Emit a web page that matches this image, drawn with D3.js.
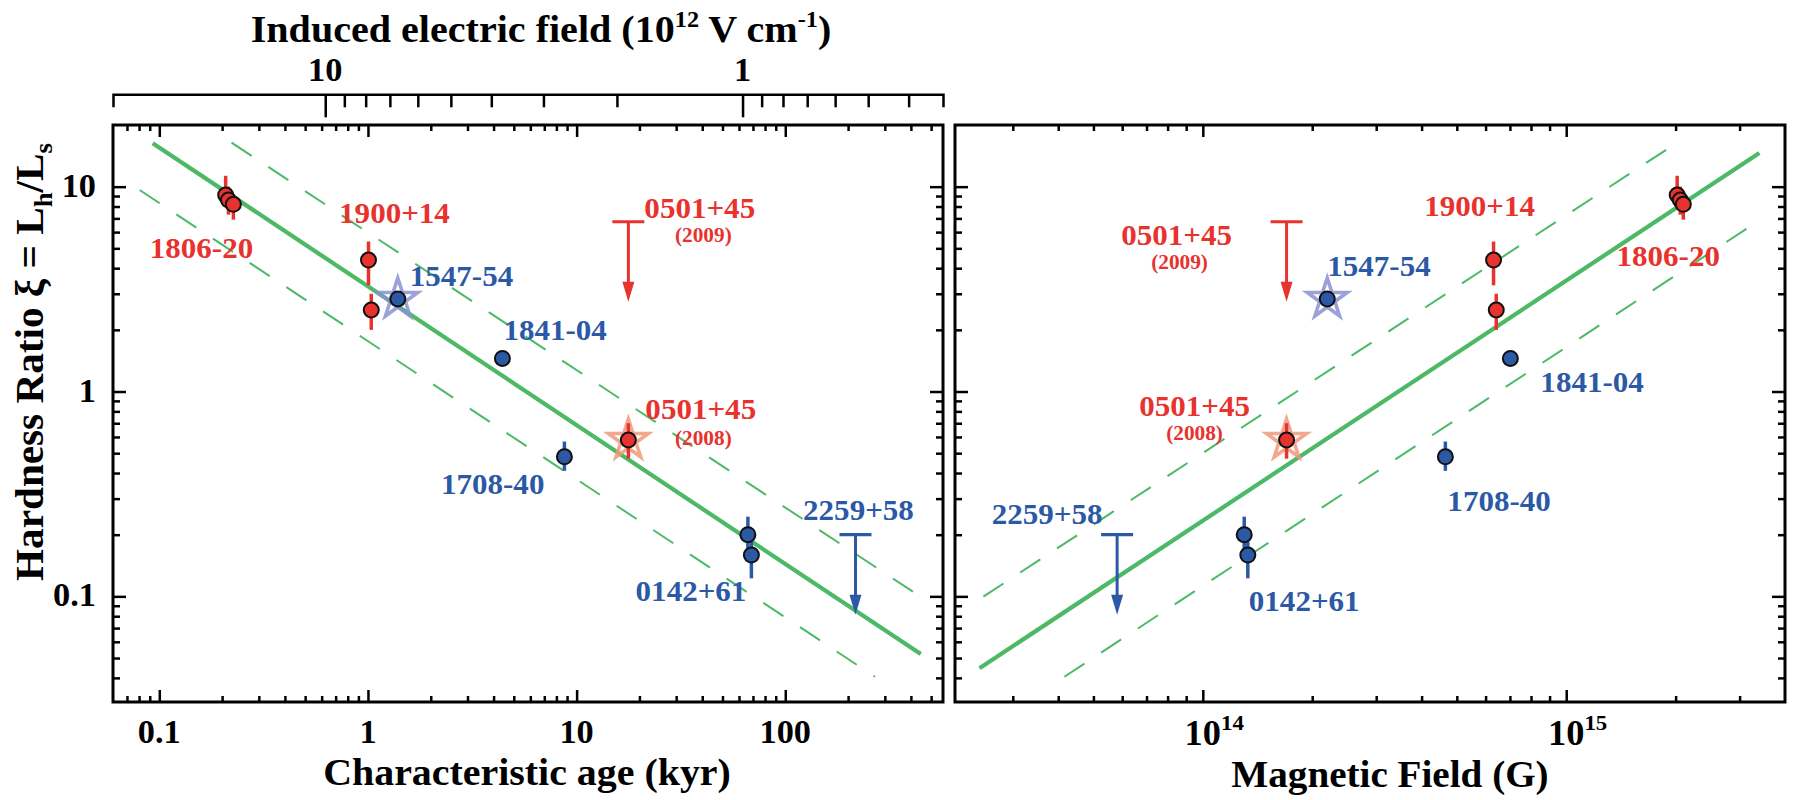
<!DOCTYPE html>
<html>
<head>
<meta charset="utf-8">
<script src="https://cdn.jsdelivr.net/npm/d3@7"></script>
<style>
  html, body { margin: 0; padding: 0; background: #fff; }
  svg { display: block; font-family: "Liberation Serif", "Times New Roman", serif; font-weight: bold; }
</style>
</head>
<body>
<svg id="chart" width="1795" height="800"></svg>
<script>
// ---------- data ----------
// detected sources: characteristic age (kyr), surface field (G), hardness ratio and its error range
const detName  = ['1806-20', '1806-20', '1806-20', '1900+14', '1900+14', '1547-54', '1841-04', '1708-40', '0501+45', '0142+61', '0142+61'];
const detClass = ['SGR', 'SGR', 'SGR', 'SGR', 'SGR', 'AXP', 'AXP', 'AXP', 'SGR', 'AXP', 'AXP'];
const detAge   = [0.208, 0.2145, 0.2265, 1.006, 1.037, 1.39, 4.41, 8.74, 17.7, 66.2, 68.8];
const detField = [2.02e15, 2.06e15, 2.10e15, 6.31e14, 6.42e14, 2.2e14, 7.02e14, 4.65e14, 1.70e14, 1.30e14, 1.33e14];
const detXi    = [9.1, 8.6, 8.2, 4.38, 2.5, 2.83, 1.45, 0.48, 0.58, 0.20, 0.159];
const detXiHi  = [11.3, 10.0, 9.2, 5.4, 3.0, 2.83, 1.45, 0.57, 0.70, 0.245, 0.185];
const detXiLo  = [8.0, 7.3, 6.9, 3.3, 2.0, 2.83, 1.45, 0.41, 0.47, 0.17, 0.1225];
// sources observed in outburst (drawn with a star behind the dot)
const starIndex = [5, 8];
const starClass = ['AXP', 'SGR'];

// upper limits
const ulName  = ['0501+45', '2259+58'];
const ulClass = ['SGR', 'AXP'];
const ulAge   = [17.7, 217];
const ulField = [1.70e14, 5.81e13];
const ulXi    = [6.74, 0.20];

// best-fit relation and its band, as end points (x, xi)
const ageFitSolid   = [[0.093, 16.3], [446, 0.0523]];
const ageFitUpper   = [[0.222, 16.4], [432, 0.1016]];
const ageFitLower   = [[0.0805, 9.63], [269, 0.0405]];
const fieldFitSolid = [[2.43e13, 0.0446], [3.40e15, 14.6]];
const fieldFitUpper = [[2.49e13, 0.0997], [2.04e15, 16.6]];
const fieldFitLower = [[4.16e13, 0.0405], [3.43e15, 6.92]];

// axis tick labels
const ageTickLabels   = [0.1, 1, 10, 100];
const fieldTickLabels = [1e14, 1e15];
const xiTickLabels    = [0.1, 1, 10];
const eTickLabels     = [10, 1];
const eMinorTicks     = [0.4, 0.5, 0.6, 0.7, 0.8, 0.9, 2, 3, 4, 5, 6, 7, 8, 9];
// induced electric field scales as E = E1 / sqrt(age), E1 in 1e12 V/cm at 1 kyr
const eFieldAt1kyr = 7.9;

// source labels: text, class, and which mark they annotate
const labelText  = ['1806-20', '1900+14', '1547-54', '1841-04', '1708-40', '0501+45', '(2009)', '0501+45', '(2008)', '0142+61', '2259+58'];
const labelClass = ['SGR', 'SGR', 'AXP', 'AXP', 'AXP', 'SGR', 'SGR', 'SGR', 'SGR', 'AXP', 'AXP'];
const labelRef   = [['det', 1], ['det', 3], ['det', 5], ['det', 6], ['det', 7], ['ul', 0], ['ul', 0], ['det', 8], ['det', 8], ['det', 10], ['ul', 1]];
const labelSmall = [false, false, false, false, false, false, true, false, true, false, false];

// ---------- layout & style ----------
const RED = '#e8322d', BLUE = '#2c59a6', GREEN = '#4cb966';
const STAR_COLOR = { AXP: '#8a91d2', SGR: '#f2987b' };
const colorOf = c => (c === 'SGR' ? RED : BLUE);

// label offsets (px) from the annotated mark: [anchor, dx, dy]
const ageLabelOffset = [
  ['middle', -27, 57], ['middle', 26, -38], ['start', 12, -14], ['start', 1, -19], ['end', -20, 36],
  ['start', 16, -5], ['middle', 75, 20], ['start', 17, -22], ['middle', 75, 5], ['end', -5, 45], ['middle', 3, -16]
];
const fieldLabelOffset = [
  ['middle', -12, 65], ['middle', -14, -45], ['start', 0, -24], ['start', 30, 33], ['start', 2, 53],
  ['middle', -110, 22], ['middle', -107, 47], ['middle', -92, -25], ['middle', -92, 0], ['start', 1, 55], ['middle', -70, -12]
];

const svg = d3.select('#chart');

const TOP = 125, BOTTOM = 702;
const yXi  = d3.scaleLog().domain([0.0305, 20]).range([BOTTOM, TOP]);
const xAge = d3.scaleLog().domain([0.06, 570]).range([113, 943]);
const xB   = d3.scaleLog().domain([2.08e13, 4.0e15]).range([955, 1785]);
const eField = t => eFieldAt1kyr / Math.sqrt(t);
const xE   = d3.scaleLog().domain([eField(0.06), eField(570)]).range([113, 943]);

const isDecade = v => Math.abs(Math.log10(v) - Math.round(Math.log10(v))) < 1e-9;

function stretchedText(parent, x, y, anchor, size, fill, sx) {
  return parent.append('g').attr('transform', `translate(${x},${y})`)
    .append('text')
    .attr('text-anchor', anchor)
    .attr('font-size', size)
    .attr('fill', fill)
    .attr('transform', `scale(${sx},1)`);
}

function styleAxis(g) {
  g.select('.domain').remove();
  g.selectAll('.tick line').attr('stroke', '#000').attr('stroke-width', 2.5);
}

// ---------- panels ----------
const panels = [
  { x: xAge, detX: detAge, ulX: ulAge, fits: [ageFitSolid, ageFitUpper, ageFitLower], offsets: ageLabelOffset, yLabels: true },
  { x: xB, detX: detField, ulX: ulField, fits: [fieldFitSolid, fieldFitUpper, fieldFitLower], offsets: fieldLabelOffset, yLabels: false }
];

panels.forEach(p => {
  const [x0, x1] = p.x.range();
  const g = svg.append('g');

  // x ticks (bottom and top edges, pointing inward)
  const xMinor = p.x.ticks().filter(v => !isDecade(v) && p.x(v) > x0 + 1 && p.x(v) < x1 - 1);
  const xMajor = p.x.ticks().filter(v => isDecade(v));
  g.append('g').attr('transform', `translate(0,${BOTTOM})`)
    .call(d3.axisBottom(p.x).tickValues(xMinor).tickSize(-6).tickFormat('')).call(styleAxis);
  g.append('g').attr('transform', `translate(0,${BOTTOM})`)
    .call(d3.axisBottom(p.x).tickValues(xMajor).tickSize(-12).tickFormat('')).call(styleAxis);
  g.append('g').attr('transform', `translate(0,${TOP})`)
    .call(d3.axisTop(p.x).tickValues(xMinor).tickSize(-6).tickFormat('')).call(styleAxis);
  g.append('g').attr('transform', `translate(0,${TOP})`)
    .call(d3.axisTop(p.x).tickValues(xMajor).tickSize(-12).tickFormat('')).call(styleAxis);

  // y ticks (left and right edges, pointing inward)
  const yMinor = yXi.ticks().filter(v => !isDecade(v) && yXi(v) > TOP + 1 && yXi(v) < BOTTOM - 1);
  const yMajor = yXi.ticks().filter(v => isDecade(v));
  [[d3.axisLeft, x0], [d3.axisRight, x1]].forEach(([axis, xp]) => {
    g.append('g').attr('transform', `translate(${xp},0)`)
      .call(axis(yXi).tickValues(yMinor).tickSize(-7).tickFormat('')).call(styleAxis);
    g.append('g').attr('transform', `translate(${xp},0)`)
      .call(axis(yXi).tickValues(yMajor).tickSize(-13).tickFormat('')).call(styleAxis);
  });

  // frame
  g.append('rect').attr('x', x0).attr('y', TOP).attr('width', x1 - x0).attr('height', BOTTOM - TOP)
    .attr('fill', 'none').attr('stroke', '#000').attr('stroke-width', 3);

  // fit line and band
  const line = d3.line().x(d => p.x(d[0])).y(d => yXi(d[1]));
  p.fits.forEach((f, i) => {
    g.append('path').attr('d', line(f)).attr('fill', 'none').attr('stroke', GREEN)
      .attr('stroke-width', i === 0 ? 4.2 : 2)
      .attr('stroke-dasharray', i === 0 ? null : '24,20');
  });

  // outburst stars
  starIndex.forEach((k, j) => {
    g.append('path')
      .attr('d', d3.symbol().type(d3.symbolStar).size(21 * 21 / 0.8908130915292852)())
      .attr('transform', `translate(${p.x(p.detX[k])},${yXi(detXi[k])})`)
      .attr('fill', 'none').attr('stroke', STAR_COLOR[starClass[j]])
      .attr('stroke-width', 3.6).attr('stroke-opacity', 0.85);
  });

  // error bars
  detXi.forEach((v, k) => {
    if (detXiHi[k] === detXiLo[k]) return;
    g.append('line')
      .attr('x1', p.x(p.detX[k])).attr('x2', p.x(p.detX[k]))
      .attr('y1', yXi(detXiHi[k])).attr('y2', yXi(detXiLo[k]))
      .attr('stroke', colorOf(detClass[k])).attr('stroke-width', 3.5);
  });

  // detections
  detXi.forEach((v, k) => {
    g.append('circle').attr('cx', p.x(p.detX[k])).attr('cy', yXi(v)).attr('r', 7.5)
      .attr('fill', colorOf(detClass[k])).attr('stroke', '#111').attr('stroke-width', 2);
  });

  // upper limits
  const arrowLen = 80;
  ulXi.forEach((v, k) => {
    const cx = p.x(p.ulX[k]), cy = yXi(v), c = colorOf(ulClass[k]);
    g.append('line').attr('x1', cx - 16).attr('x2', cx + 16).attr('y1', cy).attr('y2', cy)
      .attr('stroke', c).attr('stroke-width', 3.2);
    g.append('line').attr('x1', cx).attr('x2', cx).attr('y1', cy).attr('y2', cy + arrowLen - 16)
      .attr('stroke', c).attr('stroke-width', 3);
    g.append('path')
      .attr('d', `M${cx - 6},${cy + arrowLen - 20}L${cx + 6},${cy + arrowLen - 20}L${cx},${cy + arrowLen}Z`)
      .attr('fill', c);
  });

  // source labels
  labelText.forEach((t, i) => {
    const [kind, k] = labelRef[i];
    const mx = kind === 'det' ? p.x(p.detX[k]) : p.x(p.ulX[k]);
    const my = kind === 'det' ? yXi(detXi[k]) : yXi(ulXi[k]);
    const [anchor, dx, dy] = p.offsets[i];
    if (labelSmall[i]) {
      stretchedText(g, mx + dx, my + dy, anchor, 20.5, colorOf(labelClass[i]), 1.04).text(t);
    } else {
      stretchedText(g, mx + dx, my + dy + 1, anchor, 30, colorOf(labelClass[i]), 1.035).text(t);
    }
  });

  // y tick labels on the left panel
  if (p.yLabels) {
    xiTickLabels.forEach(v => {
      stretchedText(g, x0 - 17, yXi(v) + 10, 'end', 33, '#000', 1.04).text(d3.format('~g')(v));
    });
  }
});

// ---------- bottom tick labels ----------
ageTickLabels.forEach(v => {
  stretchedText(svg, xAge(v), 743, 'middle', 33, '#000', 1.04).text(d3.format('~g')(v));
});
fieldTickLabels.forEach(v => {
  const t = stretchedText(svg, xB(v), 745, 'start', 35, '#000', 1.04);
  t.attr('x', -17.5).text('10');
  t.append('tspan').attr('font-size', 22).attr('dy', -15).text(Math.round(Math.log10(v)));
});

// ---------- top axis: induced electric field ----------
const gE = svg.append('g').attr('transform', 'translate(0,94.3)');
gE.call(d3.axisTop(xE).tickValues(eMinorTicks).tickSize(-13).tickSizeOuter(-13).tickFormat(''));
gE.select('.domain').attr('stroke', '#000').attr('stroke-width', 2.5);
gE.selectAll('.tick line').attr('stroke', '#000').attr('stroke-width', 2.5);
const gE2 = svg.append('g').attr('transform', 'translate(0,94.3)');
gE2.call(d3.axisTop(xE).tickValues(eTickLabels).tickSize(-23).tickFormat('')).call(styleAxis);
eTickLabels.forEach(v => {
  stretchedText(svg, xE(v), 81, 'middle', 33, '#000', 1.04).text(d3.format('~g')(v));
});

// ---------- axis titles ----------
const tTop = stretchedText(svg, 541, 42, 'middle', 38, '#000', 1.055);
tTop.append('tspan').text('Induced electric field (10');
tTop.append('tspan').attr('font-size', 23).attr('dy', -15).text('12');
tTop.append('tspan').attr('dy', 15).text(' V cm');
tTop.append('tspan').attr('font-size', 23).attr('dy', -15).text('-1');
tTop.append('tspan').attr('dy', 15).text(')');

stretchedText(svg, 527, 785, 'middle', 38, '#000', 1.05).text('Characteristic age (kyr)');
stretchedText(svg, 1390, 787, 'middle', 38, '#000', 1.03).text('Magnetic Field (G)');

const gY = svg.append('g').attr('transform', 'translate(43,362) rotate(-90)');
const tY = gY.append('text').attr('text-anchor', 'middle').attr('font-size', 40)
  .attr('fill', '#000').attr('transform', 'scale(1.03,1)');
tY.append('tspan').text('Hardness Ratio ξ = L');
tY.append('tspan').attr('font-size', 26).attr('dy', 9).text('h');
tY.append('tspan').attr('dy', -9).text('/L');
tY.append('tspan').attr('font-size', 26).attr('dy', 9).text('s');
</script>
</body>
</html>
